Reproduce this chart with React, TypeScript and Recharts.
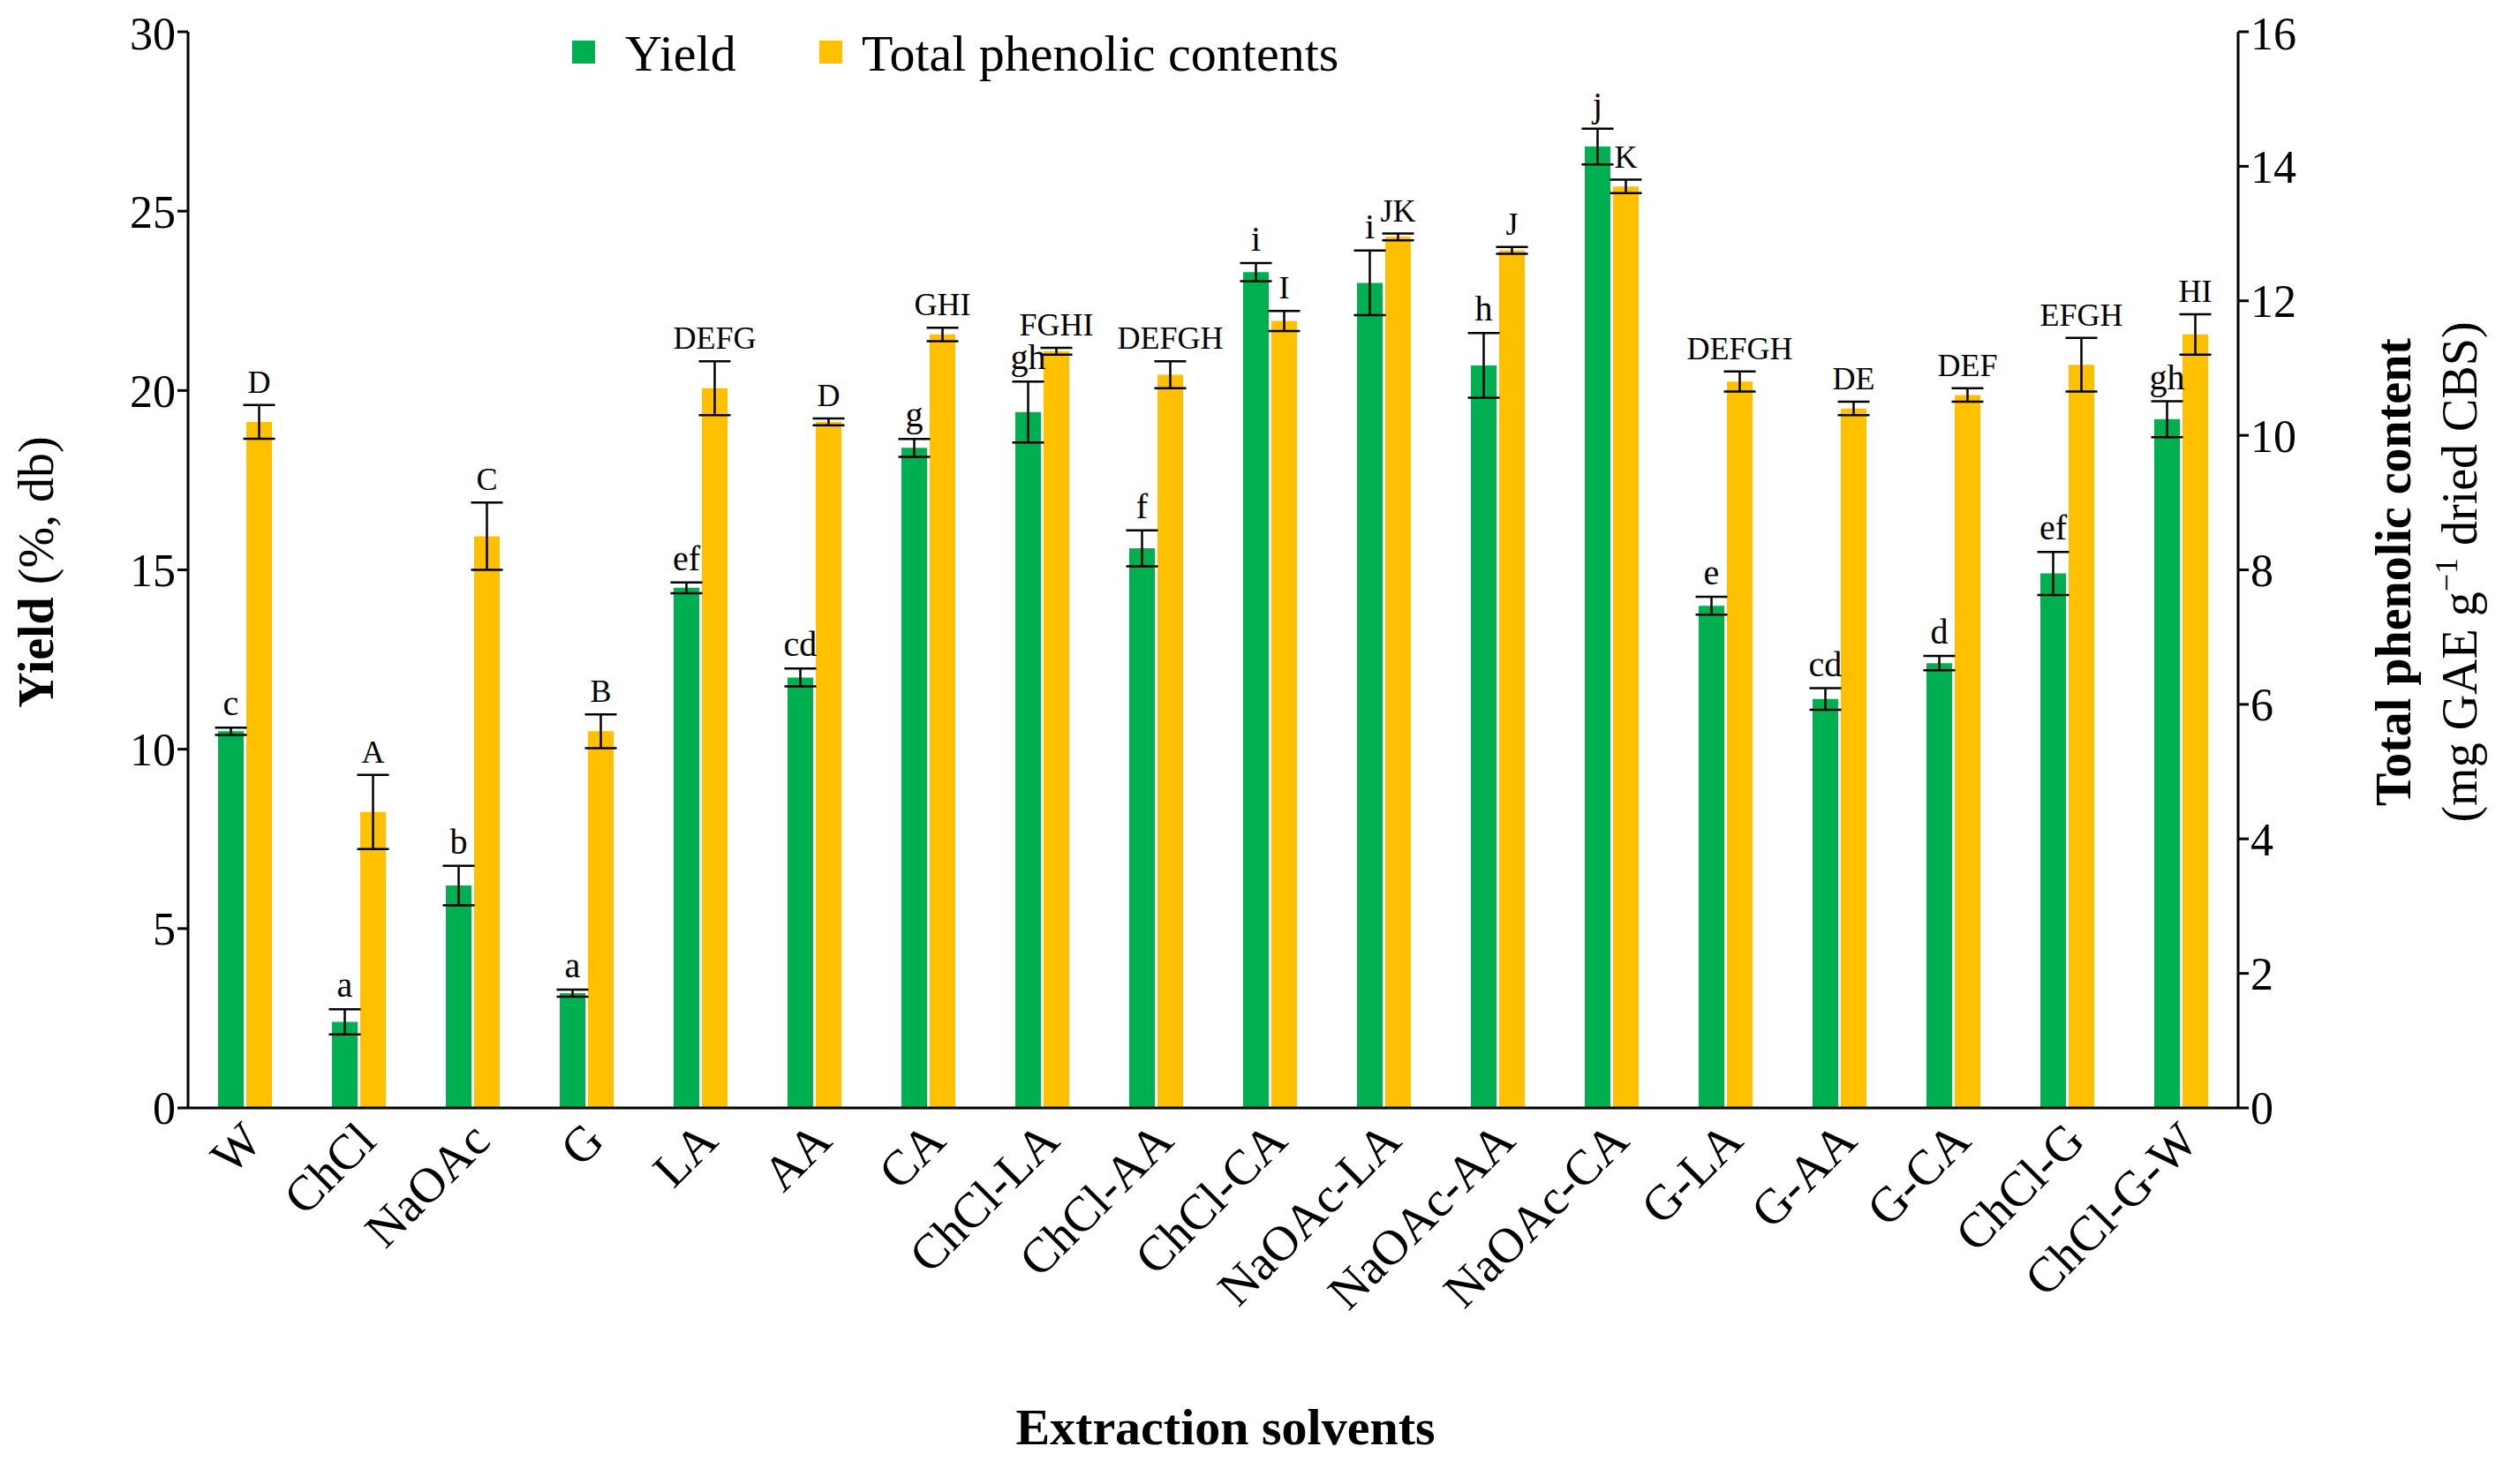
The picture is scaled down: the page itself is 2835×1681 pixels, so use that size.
import React from "react";
import { ComposedChart, Bar, XAxis, YAxis, ErrorBar, LabelList } from "recharts";

const categories = ["W", "ChCl", "NaOAc", "G", "LA", "AA", "CA", "ChCl-LA", "ChCl-AA", "ChCl-CA", "NaOAc-LA", "NaOAc-AA", "NaOAc-CA", "G-LA", "G-AA", "G-CA", "ChCl-G", "ChCl-G-W"];
const yieldValues = [10.5, 2.4, 6.2, 3.2, 14.5, 12.0, 18.4, 19.4, 15.6, 23.3, 23.0, 20.7, 26.8, 14.0, 11.4, 12.4, 14.9, 19.2];
const yieldErrors = [0.1, 0.35, 0.55, 0.1, 0.15, 0.25, 0.25, 0.85, 0.5, 0.25, 0.9, 0.9, 0.5, 0.25, 0.3, 0.2, 0.6, 0.5];
const yieldLetters = ["c", "a", "b", "a", "ef", "cd", "g", "gh", "f", "i", "i", "h", "j", "e", "cd", "d", "ef", "gh"];
const tpcValues = [10.2, 4.4, 8.5, 5.6, 10.7, 10.2, 11.5, 11.25, 10.9, 11.7, 12.95, 12.75, 13.7, 10.8, 10.4, 10.6, 11.05, 11.5];
const tpcErrors = [0.25, 0.55, 0.5, 0.25, 0.4, 0.05, 0.1, 0.05, 0.2, 0.15, 0.05, 0.05, 0.1, 0.15, 0.1, 0.1, 0.4, 0.3];
const tpcLetters = ["D", "A", "C", "B", "DEFG", "D", "GHI", "FGHI", "DEFGH", "I", "JK", "J", "K", "DEFGH", "DE", "DEF", "EFGH", "HI"];
const leftTicks = [0, 5, 10, 15, 20, 25, 30];
const rightTicks = [0, 2, 4, 6, 8, 10, 12, 14, 16];

const data = categories.map((c, i) => ({
  name: c,
  yield: yieldValues[i],
  yErr: yieldErrors[i],
  yLet: yieldLetters[i],
  tpc: tpcValues[i],
  tErr: tpcErrors[i],
  tLet: tpcLetters[i],
}));

const FONT = "'Liberation Serif', 'Times New Roman', serif";
const GREEN = "#00B050";
const YELLOW = "#FFC000";

const makeLetter = (errKey: string, valKey: string, fontSize: number) => (props: any) => {
  const { x, y, width, height, index, value } = props;
  const d = data[index] as any;
  const off = height > 0 ? (d[errKey] * height) / d[valKey] : 0;
  return (
    <text x={x + width / 2} y={y - off - 14} textAnchor="middle" fontSize={fontSize} fontFamily={FONT} fill="#000">
      {value}
    </text>
  );
};

const XTick = (props: any) => {
  const { x, y, payload } = props;
  return (
    <text x={x + 22} y={y + 32} textAnchor="end" transform={`rotate(-45 ${x + 22} ${y + 32})`} fontSize={56} fontFamily={FONT} fill="#000">
      {payload.value}
    </text>
  );
};

export default function App() {
  return (
    <div style={{ position: "relative", width: 2819, height: 1665, fontFamily: FONT }}>
      <ComposedChart
        width={2819}
        height={1665}
        data={data}
        margin={{ top: 28, right: 92, bottom: 118, left: 85 }}
        barGap={3}
        barCategoryGap="28%"
      >
        <XAxis dataKey="name" interval={0} height={300} tick={<XTick />} tickLine={false} axisLine={{ stroke: "#000", strokeWidth: 3 }} />
        <YAxis
          yAxisId="l"
          domain={[0, 30]}
          ticks={leftTicks}
          width={120}
          tick={{ fontSize: 52, fill: "#000", fontFamily: FONT }}
          tickLine={{ stroke: "#000", strokeWidth: 3 }}
          tickSize={12}
          axisLine={{ stroke: "#000", strokeWidth: 3 }}
        />
        <YAxis
          yAxisId="r"
          orientation="right"
          domain={[0, 16]}
          ticks={rightTicks}
          width={200}
          tick={{ fontSize: 52, fill: "#000", fontFamily: FONT }}
          tickLine={{ stroke: "#000", strokeWidth: 3 }}
          tickSize={12}
          axisLine={{ stroke: "#000", strokeWidth: 3 }}
        />
        <Bar yAxisId="l" dataKey="yield" name="Yield" fill={GREEN} barSize={29} isAnimationActive={false}>
          <ErrorBar dataKey="yErr" stroke="#000" strokeWidth={2.5} width={18} />
          <LabelList dataKey="yLet" content={makeLetter("yErr", "yield", 40)} />
        </Bar>
        <Bar yAxisId="r" dataKey="tpc" name="Total phenolic contents" fill={YELLOW} barSize={29} isAnimationActive={false}>
          <ErrorBar dataKey="tErr" stroke="#000" strokeWidth={2.5} width={18} />
          <LabelList dataKey="tLet" content={makeLetter("tErr", "tpc", 36)} />
        </Bar>
      </ComposedChart>
      <svg style={{ position: "absolute", left: 0, top: 0, pointerEvents: "none" }} width={2819} height={1665}>
        <rect x={640} y={38} width={26} height={26} fill={GREEN} />
        <text x={700} y={72} fontSize={58} fontFamily={FONT} fill="#000">Yield</text>
        <rect x={920} y={38} width={26} height={26} fill={YELLOW} />
        <text x={968} y={72} fontSize={58} fontFamily={FONT} fill="#000">Total phenolic contents</text>
        <text transform="translate(52 640) rotate(-90)" textAnchor="middle" fontSize={56} fontFamily={FONT} fill="#000">
          <tspan fontWeight="bold">Yield</tspan> (%, db)
        </text>
        <text transform="translate(2722 640) rotate(-90)" textAnchor="middle" fontSize={56} fontFamily={FONT} fontWeight="bold" fill="#000">
          Total phenolic content
        </text>
        <text transform="translate(2797 640) rotate(-90)" textAnchor="middle" fontSize={56} fontFamily={FONT} fill="#000">
          (mg GAE g<tspan fontSize={36} dy={-22}>−1</tspan>
          <tspan dy={22}> dried CBS)</tspan>
        </text>
        <text x={1380} y={1628} textAnchor="middle" fontSize={58} fontWeight="bold" fontFamily={FONT} fill="#000">
          Extraction solvents
        </text>
      </svg>
    </div>
  );
}
